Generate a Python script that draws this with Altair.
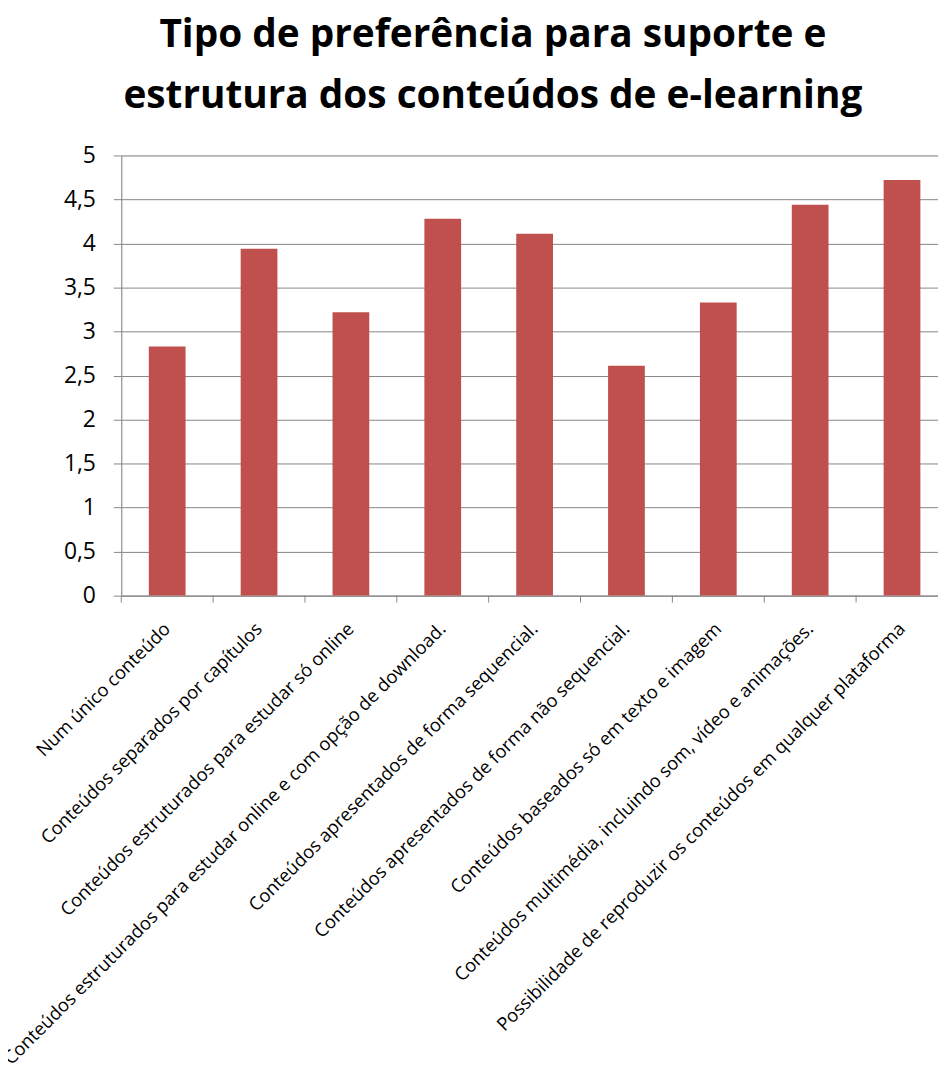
import altair as alt
import pandas as pd

categories = [
    "Num único conteúdo",
    "Conteúdos separados por capítulos",
    "Conteúdos estruturados para estudar só online",
    "Conteúdos estruturados para estudar online e com opção de download.",
    "Conteúdos apresentados de forma sequencial.",
    "Conteúdos apresentados de forma não sequencial.",
    "Conteúdos baseados só em texto e imagem",
    "Conteúdos multimédia, incluindo som, vídeo e animações.",
    "Possibilidade de reproduzir os conteúdos em qualquer plataforma",
]
values = [2.83, 3.94, 3.22, 4.28, 4.11, 2.61, 3.33, 4.44, 4.72]
title_lines = ["Tipo de preferência para suporte e", "estrutura dos conteúdos de e-learning"]

df = pd.DataFrame({"cat": categories, "val": values})

W, H = 832, 443
FONT = "Open Sans"

xscale = alt.Scale(paddingInner=0.6, paddingOuter=0.3)

bars = alt.Chart(df).mark_bar(color="#C0504D").encode(
    x=alt.X("cat:N", sort=categories, scale=xscale, title=None,
            axis=alt.Axis(labelAngle=-45, labelAlign="right", labelBaseline="middle",
                          labelPadding=30, ticks=False, domainColor="#868686",
                          labelFont=FONT, labelFontSize=18.5, labelColor="#000000",
                          labelLimit=0, labelOverlap=False)),
    y=alt.Y("val:Q", scale=alt.Scale(domain=[0, 5], nice=False), title=None,
            axis=alt.Axis(values=[0, 0.5, 1, 1.5, 2, 2.5, 3, 3.5, 4, 4.5, 5],
                          labelExpr="replace(format(datum.value, '.1~f'), '.', ',')",
                          grid=True, gridColor="#868686", gridWidth=1,
                          tickColor="#868686", tickSize=8, domainColor="#868686",
                          labelFont=FONT, labelFontSize=23, labelColor="#000000",
                          labelPadding=18)),
)

ticks = alt.Chart(df).mark_rule(color="#868686").encode(
    x=alt.X("cat:N", sort=categories, scale=alt.Scale(paddingInner=0, paddingOuter=0),
            bandPosition=0, axis=None),
    y=alt.value(H),
    y2=alt.value(H + 7),
)

chart = alt.layer(bars, ticks).resolve_scale(x="independent").properties(
    width=W, height=H,
    title=alt.TitleParams(text=title_lines, font=FONT, fontSize=39, fontWeight="bold",
                          color="#000000", anchor="middle", dx=-42, offset=29,
                          lineHeight=61),
    autosize=alt.AutoSizeParams(type="none"),
    padding={"left": 114, "top": 145, "right": -10, "bottom": 469},
).configure_view(stroke=None).configure(background="white")

chart.save("out.html", embed_options={"renderer": "svg", "actions": False})
